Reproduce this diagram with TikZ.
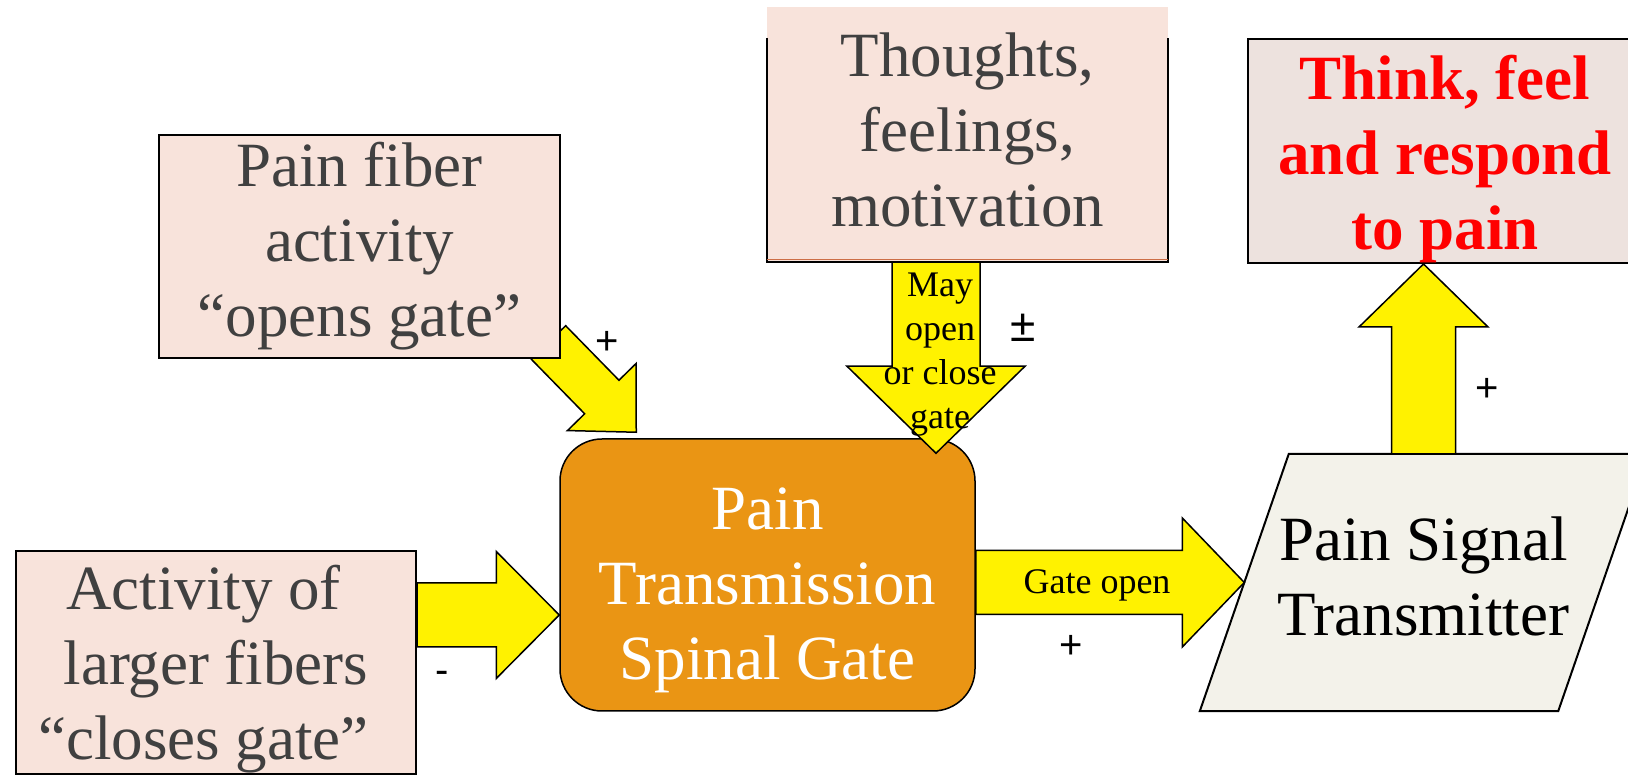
\documentclass[tikz,border=0pt]{standalone}
\usepackage{fontspec}
\setmainfont{Liberation Serif}
\newfontfamily\signfont{Liberation Sans}
\usetikzlibrary{calc}
\pgfdeclarelayer{back}
\pgfsetlayers{back,main}
\definecolor{pinkfill}{RGB}{248,227,219}
\definecolor{thinkfill}{RGB}{237,226,222}
\definecolor{gatefill}{RGB}{234,149,20}
\definecolor{sigfill}{RGB}{243,242,234}
\definecolor{greytext}{RGB}{64,64,64}
\definecolor{rimline}{RGB}{205,110,70}
\newcommand\lift[1]{\rule{0pt}{#1pt}}

\begin{document}
\begin{tikzpicture}[x=1pt,y=1pt,
    box/.style={align=center,inner sep=0pt,font=\fontsize{63}{75}\selectfont},
    pinkbox/.style={box,draw=black,line width=2pt,fill=pinkfill,text=greytext},
    sign/.style={font=\signfont\fontsize{40}{44}\selectfont,inner sep=0pt},
    small/.style={align=center,inner sep=0pt,font=\fontsize{36}{44}\selectfont},
    blockarrow/.style n args={3}{fill=yellow,draw=black,line width=1.5pt,line join=miter,
      to path={let \p1=(\tikztostart), \p2=(\tikztotarget),
        \n1={atan2(\y2-\y1,\x2-\x1)}, \n2={veclen(\x2-\x1,\y2-\y1)-#3} in
        ($(\p1)+(\n1+90:#1)$) -- ($(\p1)+(\n1:\n2)+(\n1+90:#1)$)
        -- ($(\p1)+(\n1:\n2)+(\n1+90:#2)$) -- (\p2)
        -- ($(\p1)+(\n1:\n2)+(\n1-90:#2)$) -- ($(\p1)+(\n1:\n2)+(\n1-90:#1)$)
        -- ($(\p1)+(\n1-90:#1)$) -- cycle}}]
    \useasboundingbox (0,0) rectangle (1628,775);
    \clip (0,0) rectangle (1628,775);

    \node[pinkbox,minimum width=401pt,minimum height=223pt] (fiber) at (359.5,528.5)
      {Pain fiber\\activity\\``opens gate''};
    \node[box,fill=pinkfill,text=greytext,minimum width=401pt,minimum height=255pt] (thoughts) at (967.5,640.5)
      {Thoughts,\\feelings,\\motivation\rule[-10pt]{0pt}{10pt}};
    \node[box,draw=black,line width=2pt,fill=thinkfill,text=red,font=\fontsize{63}{75}\selectfont\bfseries,
      minimum width=394pt,minimum height=224pt] (think) at (1445,624)
      {\lift{60}Think, feel\\and respond\\to pain};
    \node[pinkbox,minimum width=400pt,minimum height=223pt] (activity) at (216,112.5)
      {\lift{57}Activity of\hspace*{25pt}\\larger fibers\hspace*{25pt}\\``closes gate''\hspace*{25pt}};
    \node[box,draw=black,line width=1.5pt,fill=gatefill,text=white,rounded corners=42pt,
      minimum width=415pt,minimum height=272pt] (gate) at (767.5,200)
      {\lift{72}Pain\\Transmission\\Spinal Gate};
    \node[box,text=black,minimum width=358pt,minimum height=257pt] (signal) at (1423.5,192.5)
      {Pain Signal\\Transmitter\rule[-12pt]{0pt}{12pt}};

    \draw[line width=2pt] ([yshift=-31]thoughts.north west) |- (thoughts.south east)
      -- ([yshift=-31]thoughts.north east);
    \draw[rimline,line width=1.5pt] ([yshift=2.5]thoughts.south west) -- ([yshift=2.5]thoughts.south east);

    \begin{pgfonlayer}{back}
      \filldraw[fill=sigfill,draw=black,line width=2pt]
        ([xshift=-44.5]signal.south west) -- ([xshift=-44.5]signal.south east)
        -- ([xshift=44.5]signal.north east) -- ([xshift=44.5]signal.north west) -- cycle;
      \draw[blockarrow={24}{48}{49}] ([shift={(-12.5,16.5)}]fiber.south east) to ([shift={(77,6)}]gate.north west);
    \end{pgfonlayer}

    \draw[blockarrow={32}{63.5}{63}] ([yshift=47.5]activity.east) to ([yshift=-40]gate.west);
    \draw[blockarrow={32}{64.5}{62}] (gate.east |- signal.west) to (signal.west);
    \draw[blockarrow={32}{64.5}{63}] (signal.north) to (signal.north |- think.south);
    \draw[blockarrow={44}{89}{87}] ($(thoughts.south)+(-31.5,0)$) to ($(thoughts.south |- gate.north)+(-31.5,-15)$);

    \node[small] (gatelbl) at (1097,190) {Gate open};
    \node[small] (maylbl) at (940,420) {May\\open\\or close\\gate};
    \node[sign] (plusfiber) at (607,432) {+};
    \node[sign,font=\signfont\fontsize{46}{50}\selectfont] (pmthoughts) at (1023,447) {±};
    \node[sign] (plusthink) at (1487,385) {+};
    \node[sign] (plusgate) at (1071,128) {+};
    \node[sign] (minusact) at (442,98) {-};
\end{tikzpicture}
\end{document}
